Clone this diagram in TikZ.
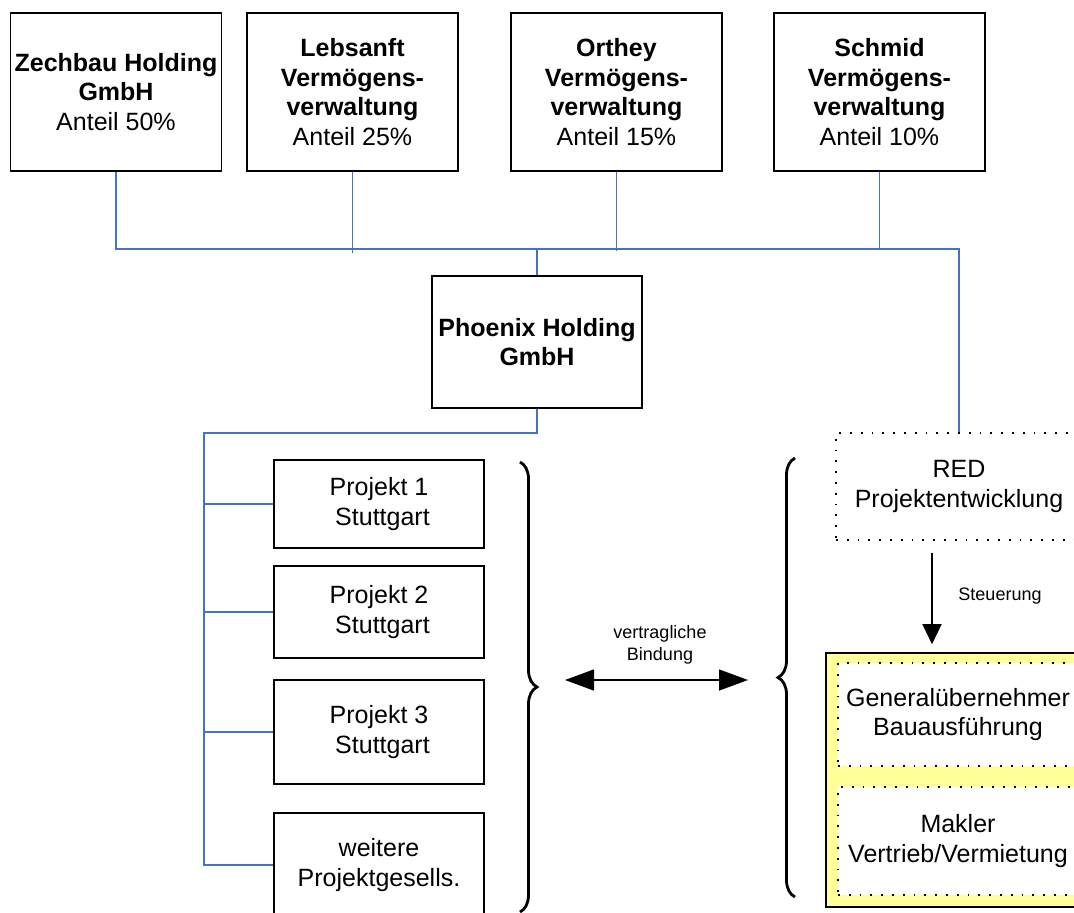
\documentclass[tikz,border=0pt]{standalone}
\usepackage{fontspec}
\setmainfont{Liberation Sans}
\usetikzlibrary{arrows.meta,decorations.pathreplacing}
\definecolor{linieblau}{RGB}{68,114,196}
\definecolor{hellgelb}{RGB}{255,255,153}

\begin{document}
\begin{tikzpicture}[x=1pt, y=-1pt,
    box/.style={draw, line width=1.6pt, align=center, inner sep=0pt,
      font=\fontsize{25}{29.5}\selectfont},
    gesell/.style={box, minimum width=211pt, minimum height=158pt},
    projekt/.style={box, minimum width=210pt},
    punktbox/.style={box, line width=1.8pt, dash pattern=on 1.8pt off 9pt},
    blau/.style={draw=linieblau, line width=1.8pt},
    klein/.style={align=center, inner sep=0pt, font=\fontsize{18}{22}\selectfont},
    klammer/.style={decorate, decoration={brace, amplitude=17pt, aspect=0.5},
      line width=2.8pt},
    pfeil/.style={line width=1.4pt, -{Triangle[length=20pt, width=19pt]}}
  ]
  \useasboundingbox (0,0) rectangle (1074,913);
  \clip (0,0) rectangle (1074,913);

  % Gesellschafter
  \node[gesell] (zech) at (116,92) {\textbf{Zechbau Holding}\\\textbf{GmbH}\\Anteil 50\%};
  \node[gesell] (leb) at (352.5,92) {\textbf{Lebsanft}\\\textbf{Vermögens-}\\\textbf{verwaltung}\\Anteil 25\%};
  \node[gesell] (orth) at (616.5,92) {\textbf{Orthey}\\\textbf{Vermögens-}\\\textbf{verwaltung}\\Anteil 15\%};
  \node[gesell] (schm) at (879.5,92) {\textbf{Schmid}\\\textbf{Vermögens-}\\\textbf{verwaltung}\\Anteil 10\%};

  % Holding
  \node[box, minimum width=210pt, minimum height=132pt] (phx) at (537,342)
    {\textbf{Phoenix Holding}\\\textbf{GmbH}};

  % Projektgesellschaften
  \node[projekt, minimum height=88pt] (p1) at (379,504) {Projekt 1\\~Stuttgart};
  \node[projekt, minimum height=92pt] (p2) at (379,612) {Projekt 2\\~Stuttgart};
  \node[projekt, minimum height=104pt] (p3) at (379,732) {Projekt 3\\~Stuttgart};
  \node[projekt, minimum height=104pt] (weit) at (379,865) {weitere\\Projektgesells.};

  % RED und Dienstleister
  \node[punktbox, minimum width=246pt, minimum height=107pt] (red) at (959,486.5)
    {RED\\Projektentwicklung};
  \node[box, fill=hellgelb, minimum width=264pt, minimum height=254pt] (gelb) at (958,780) {};
  \node[punktbox, fill=white, minimum width=240pt, minimum height=103pt] (gu) at (958,714.5)
    {Generalübernehmer\\Bauausführung};
  \node[punktbox, fill=white, minimum width=240pt, minimum height=108pt] (makler) at (958,841)
    {Makler\\Vertrieb/Vermietung};

  % Beteiligungslinien
  \draw[blau] (zech.south) -- ++(0,77) coordinate (schiene) -| (red.north);
  \draw[blau] (leb.south) -- ++(0,81);
  \draw[blau] (orth.south) -- ++(0,79);
  \draw[blau] (schm.south) -- (schm.south |- schiene);
  \draw[blau] (phx.north) -- (phx.north |- schiene);
  \coordinate (ast) at (204,433);
  \draw[blau] (phx.south) |- (ast) -- (ast |- weit.west) -- (weit.west);
  \foreach \p in {p1,p2,p3}
    \draw[blau] (ast |- \p.west) -- (\p.west);

  % Steuerung
  \coordinate (st) at (932,0);
  \draw[pfeil, shorten <=12pt, shorten >=8pt] (st |- red.south) -- (st |- gelb.north);
  \node[klein] (steu) at (1000,596) {Steuerung};

  % Klammern und Bindung
  \draw[klammer] (520,462) -- (520,912);
  \draw[klammer] (795,897) -- (795,458);
  \coordinate (bindL) at (565,680);
  \coordinate (bindR) at (748,680);
  \draw[line width=1.4pt, {Triangle[length=29pt, width=21pt]}-{Triangle[length=29pt, width=21pt]}]
    (bindL) -- (bindR);
  \node[klein] (bind) at (660,645) {vertragliche\\Bindung};
\end{tikzpicture}
\end{document}
